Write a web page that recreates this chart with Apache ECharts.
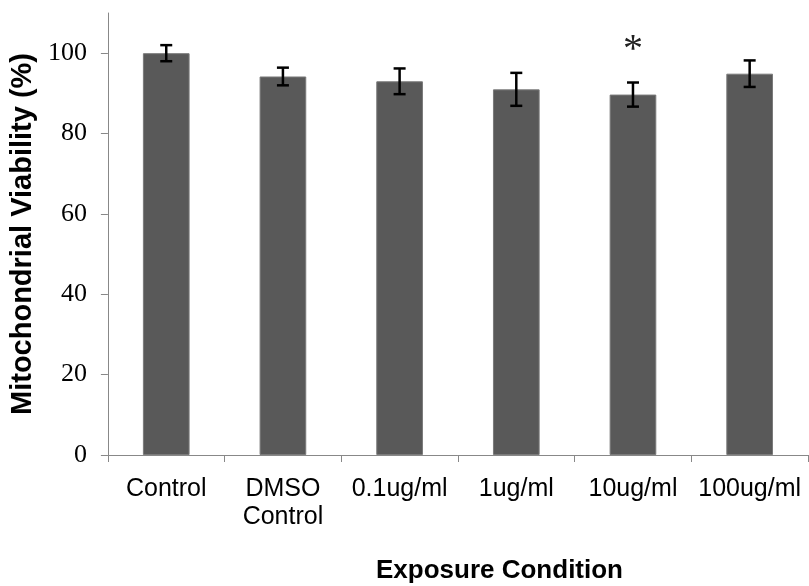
<!DOCTYPE html>
<html>
<head>
<meta charset="utf-8">
<script src="https://cdn.jsdelivr.net/npm/echarts@6/dist/echarts.min.js"></script>
<style>
  html, body { margin: 0; padding: 0; background: #fff; }
  #chart { width: 809px; height: 586px; }
</style>
</head>
<body>
<div id="chart"></div>
<script>
// values
const categories = ['Control', 'DMSO\nControl', '0.1ug/ml', '1ug/ml', '10ug/ml', '100ug/ml']
const viability = [100, 94.2, 93.0, 91.0, 89.7, 94.9]
const stdErr = [2.0, 2.2, 3.2, 4.1, 3.0, 3.3]
const significance = ['', '', '', '', '*', '']
const yTicks = [0, 20, 40, 60, 80, 100]

const chart = echarts.init(document.getElementById('chart'))

const errData = viability.map((v, i) => [i, v - stdErr[i], v + stdErr[i]])
const sigData = significance.map((s, i) => [i, viability[i] + stdErr[i], s])

chart.setOption({
  animation: false,
  title: {
    text: 'Exposure Condition',
    left: 376, top: 558, padding: 0,
    textStyle: { fontFamily: 'Liberation Sans', fontWeight: 'bold', fontSize: 26, color: '#000' },
  },
  grid: { left: 107, right: 1, top: 13, bottom: 131 },
  xAxis: {
    type: 'category',
    data: categories,
    axisLine: { lineStyle: { color: '#888', width: 1 } },
    axisTick: { show: true, length: 7, lineStyle: { color: '#888' } },
    axisLabel: {
      margin: 20, interval: 0, color: '#000',
      fontFamily: 'Liberation Sans', fontSize: 25, lineHeight: 28,
    },
  },
  yAxis: {
    type: 'value',
    min: 0, max: 110,
    name: 'Mitochondrial Viability (%)',
    nameLocation: 'middle', nameGap: 70, nameRotate: 90,
    nameTextStyle: { fontFamily: 'Liberation Sans', fontWeight: 'bold', fontSize: 29, color: '#000' },
    axisLine: { show: true, lineStyle: { color: '#888', width: 1 } },
    axisTick: { show: true, length: 7, customValues: yTicks, lineStyle: { color: '#888' } },
    axisLabel: {
      customValues: yTicks, margin: 21, color: '#000',
      fontFamily: 'Liberation Serif', fontSize: 26,
    },
    splitLine: { show: false },
  },
  series: [
    {
      type: 'bar',
      data: viability,
      barWidth: '40%',
      itemStyle: { color: '#595959', borderColor: '#7a7a7a', borderWidth: 1 },
    },
    {
      type: 'custom',
      data: errData,
      z: 5,
      renderItem: (params, api) => {
        const lo = api.coord([api.value(0), api.value(1)])
        const hi = api.coord([api.value(0), api.value(2)])
        const x = lo[0], cap = 6
        const st = { stroke: '#000', lineWidth: 2.5 }
        return {
          type: 'group',
          children: [
            { type: 'line', shape: { x1: x, y1: lo[1], x2: x, y2: hi[1] }, style: st },
            { type: 'line', shape: { x1: x - cap, y1: lo[1], x2: x + cap, y2: lo[1] }, style: st },
            { type: 'line', shape: { x1: x - cap, y1: hi[1], x2: x + cap, y2: hi[1] }, style: st },
          ],
        }
      },
    },
    {
      type: 'custom',
      data: sigData,
      z: 6,
      renderItem: (params, api) => {
        const p = api.coord([api.value(0), api.value(1)])
        return {
          type: 'text',
          x: p[0], y: p[1] - 32,
          style: {
            text: significance[params.dataIndex],
            fontFamily: 'Liberation Serif', fontSize: 40, fill: '#222',
            align: 'center', verticalAlign: 'middle',
          },
        }
      },
    },
  ],
})
</script>
</body>
</html>
